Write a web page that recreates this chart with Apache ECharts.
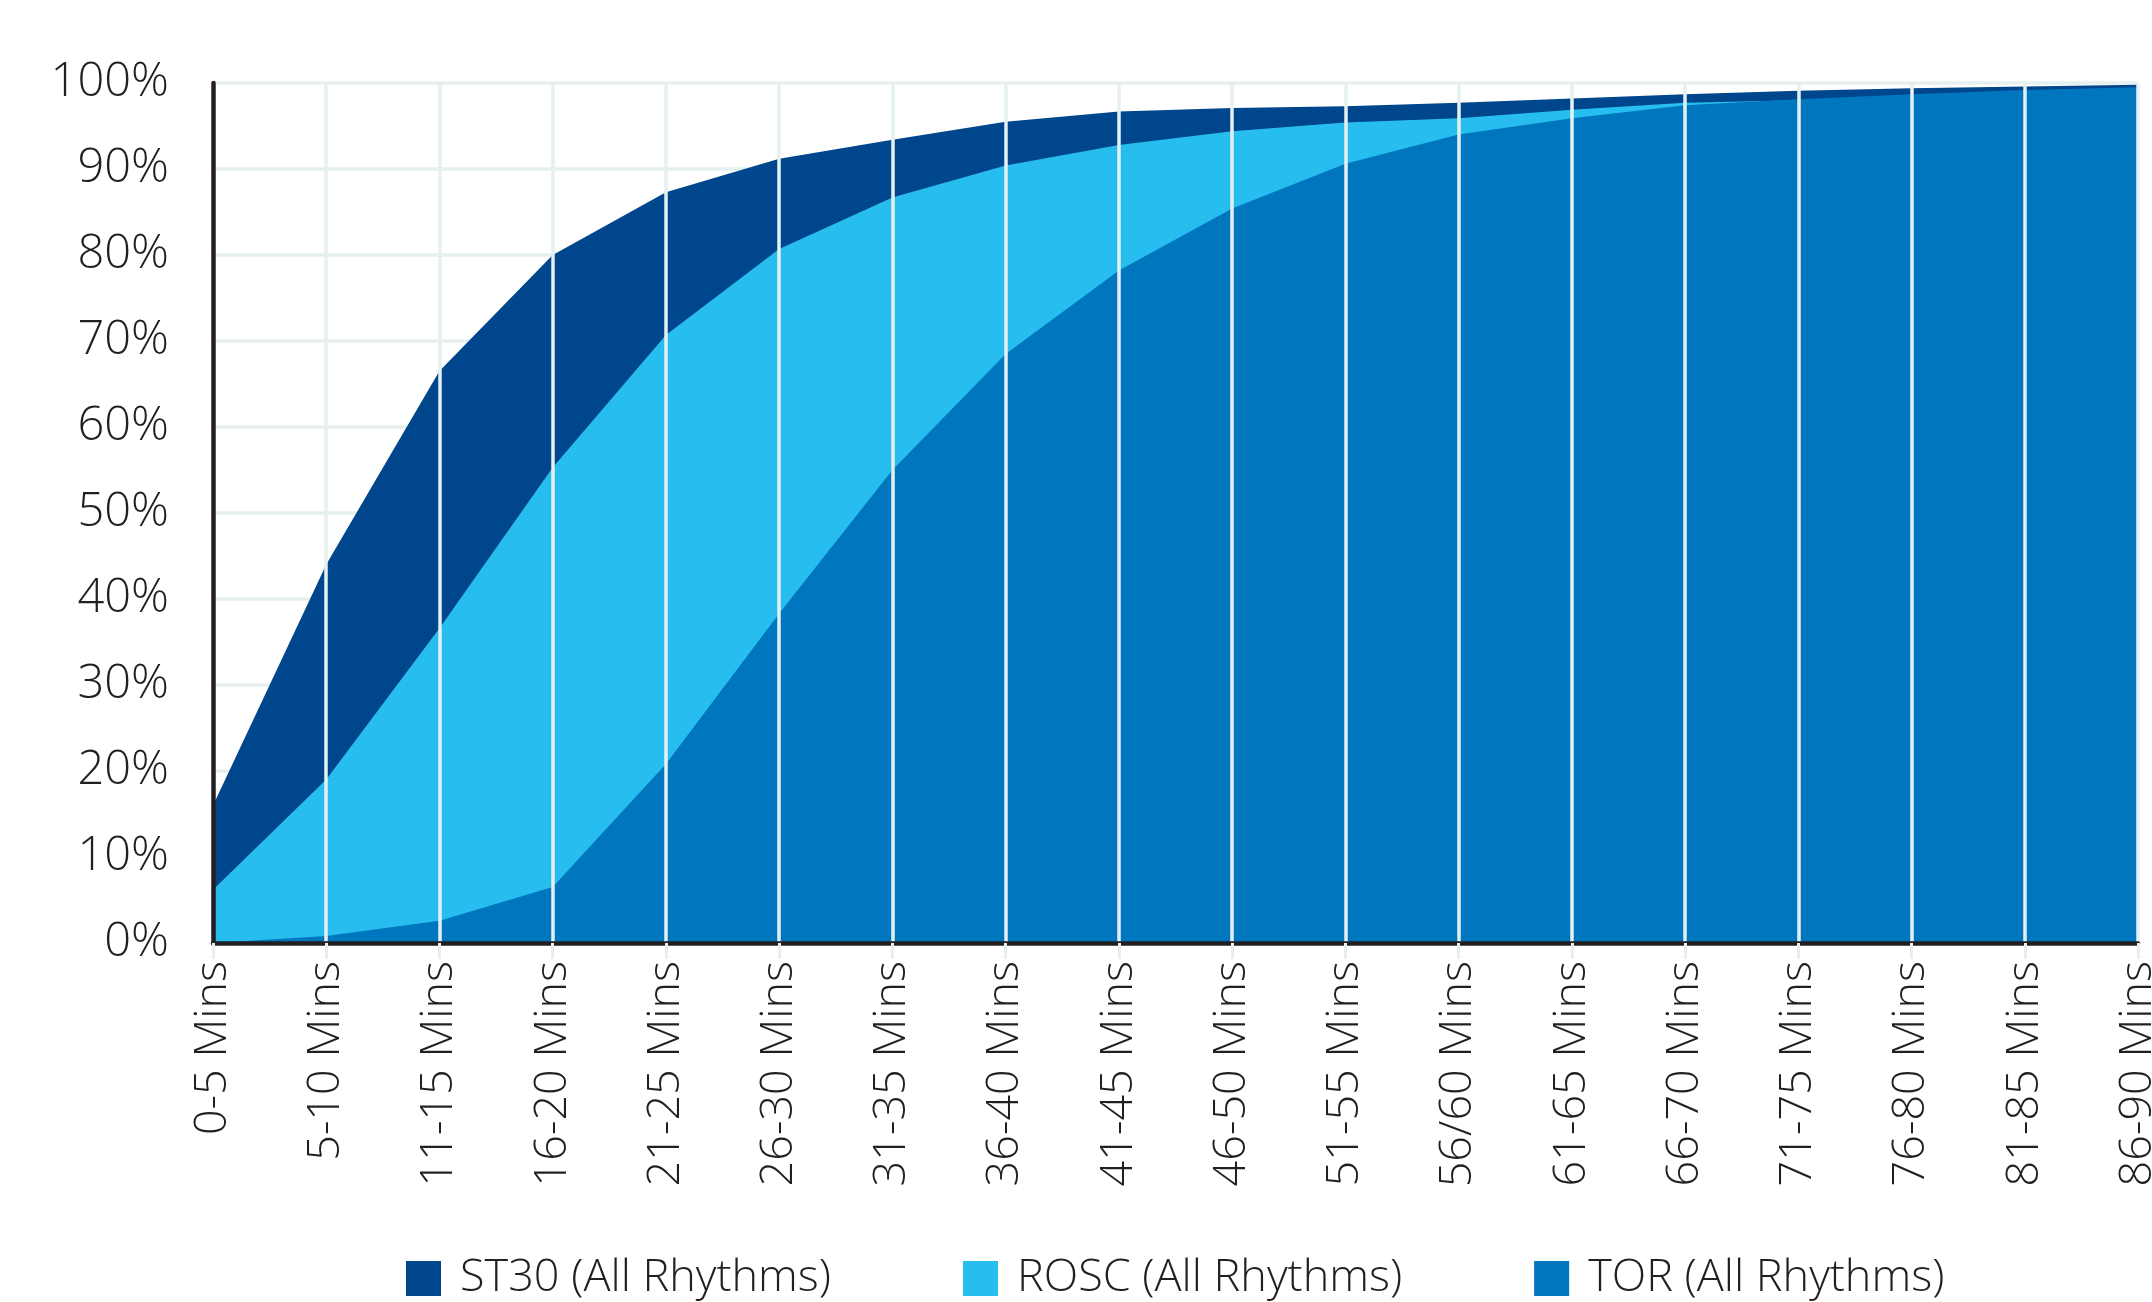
<!DOCTYPE html>
<html>
<head>
<meta charset="utf-8">
<title>ST30, ROSC and TOR by elapsed time</title>
<script src="https://cdn.jsdelivr.net/npm/echarts@6/dist/echarts.min.js"></script>
<style>
  html, body { margin: 0; padding: 0; background: #ffffff; }
  #chart { width: 2152px; height: 1302px; }
</style>
</head>
<body>
<div id="chart"></div>
<script>
// Time bands along the horizontal axis
const categories = [
  '0-5 Mins', '5-10 Mins', '11-15 Mins', '16-20 Mins', '21-25 Mins', '26-30 Mins',
  '31-35 Mins', '36-40 Mins', '41-45 Mins', '46-50 Mins', '51-55 Mins', '56/60 Mins',
  '61-65 Mins', '66-70 Mins', '71-75 Mins', '76-80 Mins', '81-85 Mins', '86-90 Mins'
];

// Cumulative percentages per band
const st30 = [16, 44, 66.5, 80, 87.3, 91.2, 93.4, 95.5, 96.7, 97.1, 97.3, 97.7, 98.2, 98.7, 99.1, 99.4, 99.6, 99.8];
const rosc = [6.2, 19, 36.6, 55.3, 70.7, 80.7, 86.7, 90.4, 92.8, 94.4, 95.4, 95.9, 96.9, 97.7, 98.0, 98.5, 99.0, 99.4];
const tor  = [0, 0.8, 2.6, 6.5, 20.8, 38.3, 55, 68.5, 78.2, 85.4, 90.6, 94.0, 95.9, 97.4, 98.1, 98.7, 99.2, 99.5];

const seriesNames = ['ST30 (All Rhythms)', 'ROSC (All Rhythms)', 'TOR (All Rhythms)'];
const seriesColors = ['#00468c', '#28bdef', '#0076bf'];

const FONT = '"Open Sans", "Noto Sans", sans-serif';
const WEIGHT = 300;
const INK = '#231f20';
const GRID_LINE = '#e6f0f1';

const chart = echarts.init(document.getElementById('chart'), null, { renderer: 'canvas' });

function area(name, values, color) {
  return {
    name: name,
    type: 'line',
    data: values,
    symbol: 'none',
    lineStyle: { width: 0 },
    areaStyle: { color: color, opacity: 1 },
    itemStyle: { color: color },
    emphasis: { disabled: true }
  };
}

const torSeries = area(seriesNames[2], tor, seriesColors[2]);
// Vertical guide lines at each band, painted over the filled areas
torSeries.markLine = {
  silent: true,
  symbol: 'none',
  animation: false,
  label: { show: false },
  lineStyle: { color: GRID_LINE, width: 3.5, type: 'solid', opacity: 1 },
  emphasis: { disabled: true },
  data: categories.slice(1).map(function (c) { return { xAxis: c }; })
};

chart.setOption({
  animation: false,
  backgroundColor: '#ffffff',
  grid: { left: 213, right: 14, top: 83, bottom: 359, containLabel: false, outerBoundsMode: 'none' },
  legend: {
    data: seriesNames,
    left: 406,
    top: 1256,
    padding: 0,
    itemWidth: 35,
    itemHeight: 35,
    itemGap: 132,
    icon: 'rect',
    selectedMode: false,
    textStyle: {
      fontFamily: FONT,
      fontWeight: WEIGHT,
      fontSize: 45,
      color: INK,
      lineHeight: 45,
      padding: [0, 0, 0, 14]
    }
  },
  xAxis: {
    type: 'category',
    data: categories,
    boundaryGap: false,
    z: 8,
    axisLine: { show: true, lineStyle: { color: INK, width: 4.5 } },
    axisTick: { show: true, length: 16, lineStyle: { color: GRID_LINE, width: 3 } },
    axisLabel: {
      show: true,
      rotate: 90,
      margin: 18,
      interval: 0,
      fontFamily: FONT,
      fontWeight: WEIGHT,
      fontSize: 45,
      color: INK
    },
    splitLine: { show: false }
  },
  yAxis: [
    {
      // horizontal grid lines behind the areas
      type: 'value',
      min: 0,
      max: 100,
      interval: 10,
      position: 'left',
      z: 0,
      axisLine: { show: false },
      axisTick: { show: false },
      axisLabel: { show: false },
      splitLine: { show: true, lineStyle: { color: GRID_LINE, width: 3.5 } }
    },
    {
      type: 'value',
      min: 0,
      max: 100,
      interval: 10,
      position: 'left',
      z: 8,
      axisLine: { show: true, lineStyle: { color: INK, width: 4.5 } },
      axisTick: { show: false },
      axisLabel: {
        show: true,
        margin: 44,
        formatter: '{value}%',
        fontFamily: FONT,
        fontWeight: WEIGHT,
        fontSize: 47,
        color: INK
      },
      splitLine: { show: false }
    }
  ],
  series: [
    area(seriesNames[0], st30, seriesColors[0]),
    area(seriesNames[1], rosc, seriesColors[1]),
    torSeries
  ]
});
</script>
</body>
</html>
